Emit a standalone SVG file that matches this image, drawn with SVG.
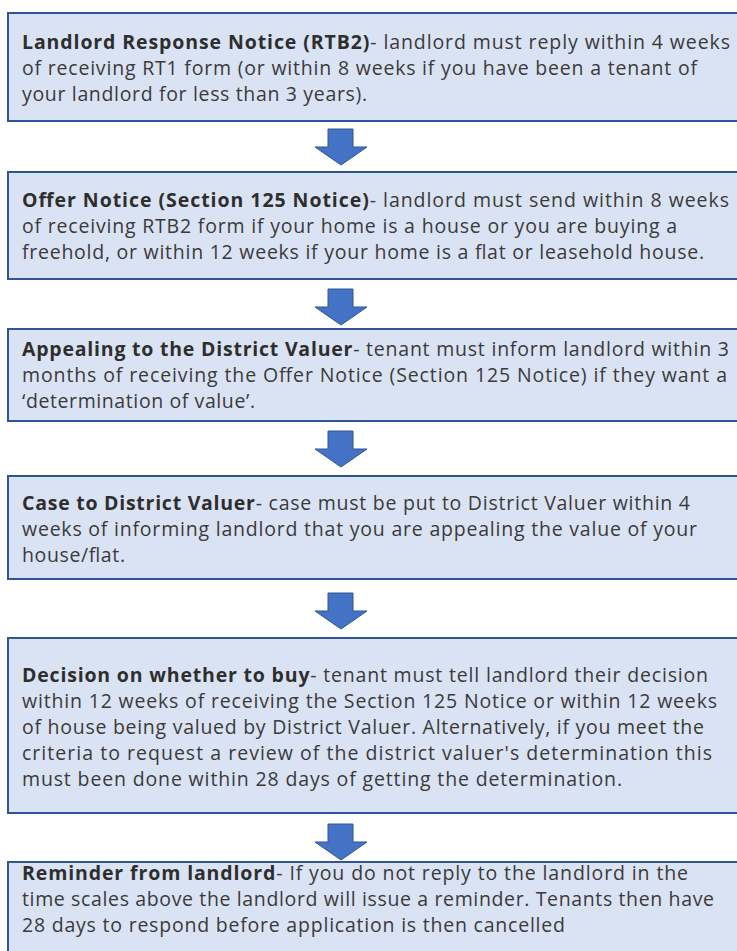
<svg xmlns="http://www.w3.org/2000/svg" width="737" height="951" viewBox="0 0 737 951">
<style>
.box{fill:#dae3f3;stroke:#2f5597;stroke-width:2}
.t{font-family:"Open Sans","Noto Sans","Liberation Sans",sans-serif;font-size:19.5px;fill:#3a3a3a}
.b{font-weight:bold;fill:#2e2e2e}
.arr{fill:#4472c4;stroke:#2f5597;stroke-width:1}
</style>
<defs>
<path id="ar" d="M-13,0 H12 V18 H26 L0,36 L-26,18 H-13 Z"/>
</defs>
<rect width="737" height="951" fill="#ffffff"/>
<g id="connectors">
<use href="#ar" class="arr" x="341" y="129"/>
<use href="#ar" class="arr" x="341" y="289"/>
<use href="#ar" class="arr" x="341" y="431"/>
<use href="#ar" class="arr" x="341" y="593"/>
<use href="#ar" class="arr" x="341" y="824"/>
</g>
<g id="n1">
<rect class="box" x="8" y="13" width="740" height="108"/>
<text class="t" x="22" y="49" textLength="708"><tspan class="b">Landlord Response Notice (RTB2)</tspan>- landlord must reply within 4 weeks</text>
<text class="t" x="22" y="75" textLength="675">of receiving RT1 form (or within 8 weeks if you have been a tenant of</text>
<text class="t" x="22" y="101" textLength="345">your landlord for less than 3 years).</text>
</g>
<g id="n2">
<rect class="box" x="8" y="172" width="740" height="107"/>
<text class="t" x="22" y="207" textLength="707"><tspan class="b">Offer Notice (Section 125 Notice)</tspan>- landlord must send within 8 weeks</text>
<text class="t" x="22" y="233" textLength="655">of receiving RTB2 form if your home is a house or you are buying a</text>
<text class="t" x="22" y="259" textLength="682">freehold, or within 12 weeks if your home is a flat or leasehold house.</text>
</g>
<g id="n3">
<rect class="box" x="8" y="329" width="740" height="92"/>
<text class="t" x="22" y="356" textLength="707"><tspan class="b">Appealing to the District Valuer</tspan>- tenant must inform landlord within 3</text>
<text class="t" x="22" y="382" textLength="705">months of receiving the Offer Notice (Section 125 Notice) if they want a</text>
<text class="t" x="22" y="408" textLength="233">‘determination of value’.</text>
</g>
<g id="n4">
<rect class="box" x="8" y="476" width="740" height="103"/>
<text class="t" x="22" y="510" textLength="668"><tspan class="b">Case to District Valuer</tspan>- case must be put to District Valuer within 4</text>
<text class="t" x="22" y="536" textLength="675">weeks of informing landlord that you are appealing the value of your</text>
<text class="t" x="22" y="562" textLength="103">house/flat.</text>
</g>
<g id="n5">
<rect class="box" x="8" y="638" width="740" height="175"/>
<text class="t" x="22" y="682" textLength="686"><tspan class="b">Decision on whether to buy</tspan>- tenant must tell landlord their decision</text>
<text class="t" x="22" y="708" textLength="695">within 12 weeks of receiving the Section 125 Notice or within 12 weeks</text>
<text class="t" x="22" y="734" textLength="682">of house being valued by District Valuer. Alternatively, if you meet the</text>
<text class="t" x="22" y="760" textLength="690">criteria to request a review of the district valuer's determination this</text>
<text class="t" x="22" y="786" textLength="600">must been done within 28 days of getting the determination.</text>
</g>
<g id="n6">
<rect class="box" x="8" y="862" width="740" height="120"/>
<text class="t" x="22" y="880" textLength="666"><tspan class="b">Reminder from landlord</tspan>- If you do not reply to the landlord in the</text>
<text class="t" x="22" y="906" textLength="692">time scales above the landlord will issue a reminder. Tenants then have</text>
<text class="t" x="22" y="932" textLength="543">28 days to respond before application is then cancelled</text>
</g>
</svg>
